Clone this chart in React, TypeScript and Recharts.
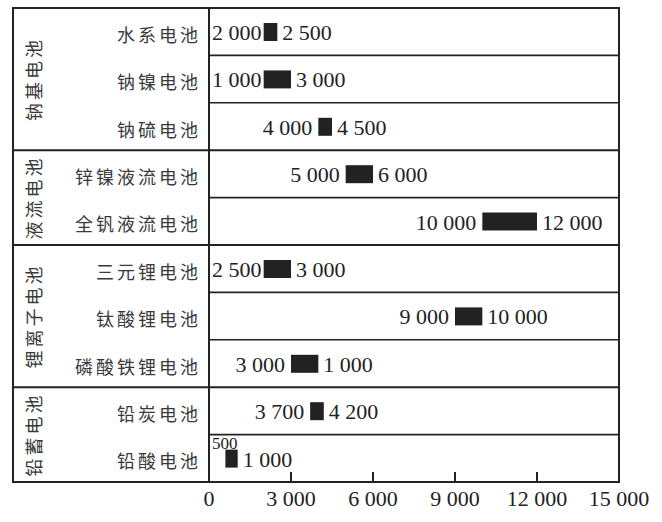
import { BarChart, Bar, XAxis, YAxis, LabelList } from 'recharts';

// battery types, top to bottom
const categories = [
    '水系电池', '钠镍电池', '钠硫电池',
    '锌镍液流电池', '全钒液流电池',
    '三元锂电池', '钛酸锂电池', '磷酸铁锂电池',
    '铅炭电池', '铅酸电池',
];
const groupNames = ['钠基电池', '液流电池', '锂离子电池', '铅蓄电池'];
const groupSizes = [3, 2, 3, 2];

// bar extents as drawn
const barStart = [2000, 2000, 4000, 5000, 10000, 2000, 9000, 3000, 3700, 600];
const barEnd = [2500, 3000, 4500, 6000, 12000, 3000, 10000, 4000, 4200, 1050];
// printed numbers on either side of the bar
const lowLabels = [2000, 1000, 4000, 5000, 10000, 2500, 9000, 3000, 3700, 500];
const highLabels = [2500, 3000, 4500, 6000, 12000, 3000, 10000, 1000, 4200, 1000];

const xTicks = [0, 3000, 6000, 9000, 12000, 15000];

const W = 662;
const H = 522;
const M_LEFT = 13;
const M_RIGHT = 43;
const AXIS_W = 196;
const PLOT_LEFT = M_LEFT + AXIS_W;
const PLOT_RIGHT = W - M_RIGHT;
const TICK_GAP = 11;
const LINE = '#222';
const SERIF = '"Liberation Serif", "Times New Roman", serif';
const CJK = '"Noto Sans CJK SC", sans-serif';
const NUM_SIZE = 22;

const data = categories.map((name, i) => ({
    name,
    range: [barStart[i], barEnd[i]],
    idx: i,
}));

// first row index of each group
const groupStarts: number[] = [];
groupSizes.reduce((acc, n) => { groupStarts.push(acc); return acc + n; }, 0);

const fmt = (n: number) => String(n).replace(/\B(?=(\d{3})+(?!\d))/g, ' ');
// rough width of a serif number string
const textWidth = (s: string, size: number) =>
    s.split('').reduce((w, c) => w + (c === ' ' ? 0.25 : 0.5) * size, 0);

// category label plus the table rules around its row
function CategoryTick(props: any) {
    const { x, y, payload } = props;
    const index = props.index ?? payload.index;
    const half = payload.offset || 474 / categories.length / 2;
    const plotLeft = x + TICK_GAP;
    const left = plotLeft - AXIS_W;
    const top = y - half;
    const bottom = y + half;
    const g = groupStarts.indexOf(index);
    const last = index === categories.length - 1;
    return (
        <g>
            <text x={x + 3} y={y + 2} textAnchor="end" dominantBaseline="central"
                fontFamily={CJK} fontSize={18} letterSpacing={3} fill="#3a3a3a">
                {payload.value}
            </text>
            {[left, plotLeft, PLOT_RIGHT].map((vx) => (
                <line key={vx} x1={vx} x2={vx} y1={top - 1} y2={bottom + 1} stroke={LINE} strokeWidth={2} />
            ))}
            <line
                x1={g >= 0 ? left - 1 : plotLeft}
                x2={PLOT_RIGHT + 1}
                y1={top}
                y2={top}
                stroke={LINE}
                strokeWidth={g >= 0 ? 2 : 1.6}
            />
            {last && (
                <line x1={left - 1} x2={PLOT_RIGHT + 1} y1={bottom} y2={bottom} stroke={LINE} strokeWidth={2} />
            )}
            {g >= 0 && (
                <text
                    x={left + 20}
                    y={top + groupSizes[g] * half}
                    textAnchor="middle"
                    dominantBaseline="central"
                    fontFamily={CJK}
                    fontSize={18}
                    letterSpacing={3}
                    fill="#3a3a3a"
                    transform={`rotate(-90, ${left + 20}, ${top + groupSizes[g] * half})`}
                >
                    {groupNames[g]}
                </text>
            )}
        </g>
    );
}

// inward tick mark plus the number below the frame
function ValueTick(props: any) {
    const { x, y, payload } = props;
    const v = Number(payload.value);
    const inner = v > xTicks[0] && v < xTicks[xTicks.length - 1];
    return (
        <g>
            {inner && <rect x={x - 1} y={y - 10} width={2} height={10} fill={LINE} />}
            <text x={x} y={y + 24} textAnchor="middle" fontFamily={SERIF} fontSize={NUM_SIZE} fill="#222">
                {fmt(v)}
            </text>
        </g>
    );
}

function BarValueLabel(props: any) {
    const vb = props.viewBox || {};
    const x = props.x ?? vb.x;
    const y = props.y ?? vb.y;
    const width = props.width ?? vb.width;
    const height = props.height ?? vb.height;
    const i = props.value;
    const low = fmt(lowLabels[i]);
    const high = fmt(highLabels[i]);
    const base = y + height - 1;
    const lw = textWidth(low, NUM_SIZE);
    let lowText;
    if (PLOT_LEFT + 3 + lw > x) {
        // no room beside the bar: small number above it
        lowText = (
            <text x={PLOT_LEFT + 3} y={y - 1} fontFamily={SERIF} fontSize={17} fill="#222">{low}</text>
        );
    } else if (x - 6 - lw < PLOT_LEFT + 3) {
        lowText = (
            <text x={PLOT_LEFT + 3} y={base} fontFamily={SERIF} fontSize={NUM_SIZE} fill="#222">{low}</text>
        );
    } else {
        lowText = (
            <text x={x - 6} y={base} textAnchor="end" fontFamily={SERIF} fontSize={NUM_SIZE} fill="#222">{low}</text>
        );
    }
    return (
        <g>
            {lowText}
            <text x={x + width + 5} y={base} fontFamily={SERIF} fontSize={NUM_SIZE} fill="#222">{high}</text>
        </g>
    );
}

export default function App() {
    return (
        <div style={{ position: 'absolute', left: 0, top: 0, width: W, height: H, background: '#fff' }}>
            <BarChart
                width={W}
                height={H}
                data={data}
                layout="vertical"
                margin={{ top: 8, right: M_RIGHT, left: M_LEFT, bottom: 0 }}
            >
                <XAxis
                    type="number"
                    domain={[0, 15000]}
                    ticks={xTicks}
                    interval={0}
                    height={40}
                    axisLine={false}
                    tickLine={false}
                    tickSize={0}
                    tickMargin={0}
                    tick={<ValueTick />}
                />
                <YAxis
                    type="category"
                    dataKey="name"
                    width={AXIS_W}
                    axisLine={false}
                    tickLine={false}
                    tickSize={0}
                    tickMargin={TICK_GAP}
                    interval={0}
                    tick={<CategoryTick />}
                />
                <Bar dataKey="range" fill="#222" barSize={18} isAnimationActive={false}>
                    <LabelList dataKey="idx" content={<BarValueLabel />} />
                </Bar>
            </BarChart>
        </div>
    );
}
